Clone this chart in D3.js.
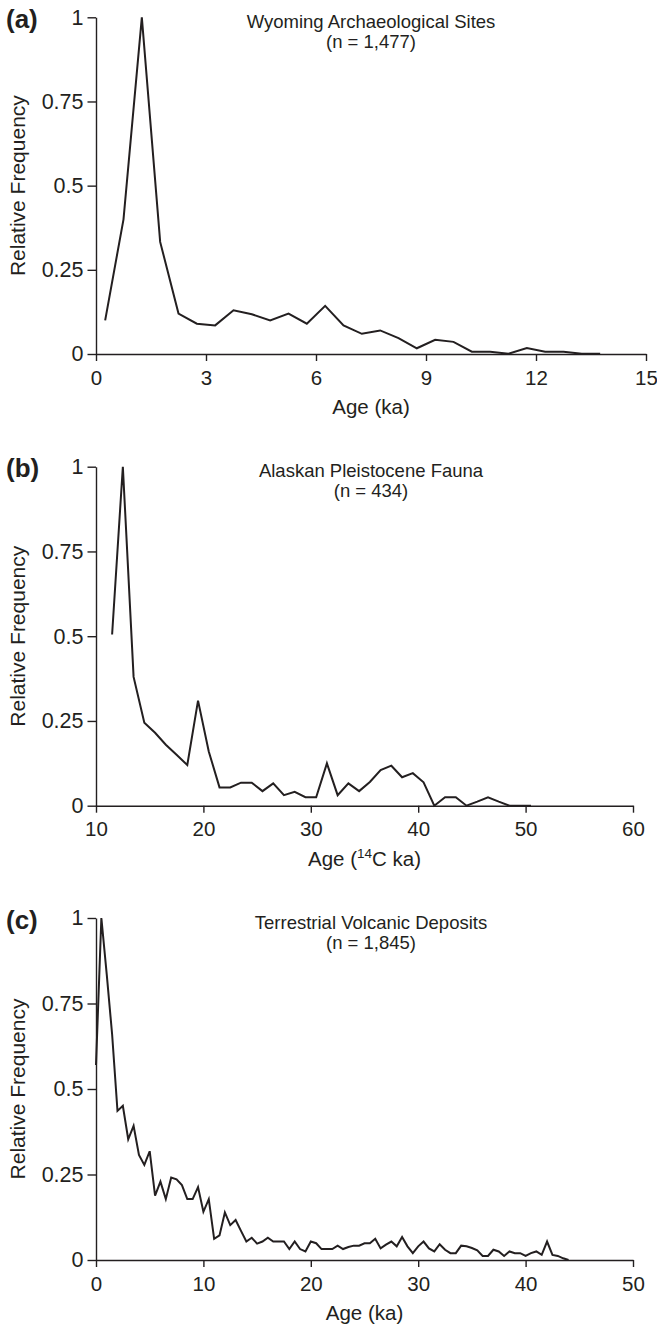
<!DOCTYPE html>
<html>
<head>
<meta charset="utf-8">
<script src="https://cdn.jsdelivr.net/npm/d3@7/dist/d3.min.js"></script>
<style>
  html, body { margin: 0; padding: 0; background: #fff; }
  svg { display: block; }
  text { font-family: "Liberation Sans", Arial, Helvetica, sans-serif; fill: #231f20; }
</style>
</head>
<body>
<svg id="fig" width="657" height="1326"></svg>
<script>
// (a) Wyoming archaeological sites, binned age (ka) vs relative frequency
const ageA = [0.25, 0.75, 1.25, 1.75, 2.25, 2.75, 3.25, 3.75, 4.25, 4.75, 5.25, 5.75, 6.25, 6.75,
              7.25, 7.75, 8.25, 8.75, 9.25, 9.75, 10.25, 10.75, 11.25, 11.75, 12.25, 12.75, 13.25, 13.75];
const freqA = [0.10, 0.40, 1.00, 0.333, 0.12, 0.09, 0.085, 0.13, 0.118, 0.10, 0.12, 0.09, 0.143, 0.085,
               0.06, 0.07, 0.047, 0.017, 0.042, 0.036, 0.007, 0.007, 0.001, 0.018, 0.007, 0.007, 0.001, 0.001];

// (b) Alaskan Pleistocene fauna, 14C ka
const ageB = [11.5, 12.5, 13.5, 14.5, 15.5, 16.5, 17.5, 18.5, 19.5, 20.5, 21.5, 22.5, 23.5, 24.5,
              25.5, 26.5, 27.5, 28.5, 29.5, 30.5, 31.5, 32.5, 33.5, 34.5, 35.5, 36.5, 37.5, 38.5,
              39.5, 40.5, 41.5, 42.5, 43.5, 44.5, 45.5, 46.5, 47.5, 48.5, 49.5, 50.5];
const freqB = [0.505, 1.00, 0.38, 0.245, 0.215, 0.18, 0.15, 0.12, 0.31, 0.16, 0.054, 0.054, 0.068, 0.068,
               0.043, 0.066, 0.031, 0.041, 0.025, 0.025, 0.125, 0.031, 0.066, 0.043, 0.07, 0.105, 0.118, 0.084,
               0.096, 0.069, 0.0, 0.025, 0.025, 0.0, 0.012, 0.025, 0.012, 0.0, 0.0, 0.0];

// (c) Terrestrial volcanic deposits, ka
const ageC = [0, 0.5, 1, 1.5, 2, 2.5, 3, 3.5, 4, 4.5, 5, 5.5, 6, 6.5, 7, 7.5, 8, 8.5, 9, 9.5,
              10, 10.5, 11, 11.5, 12, 12.5, 13, 13.5, 14, 14.5, 15, 15.5, 16, 16.5, 17, 17.5, 18, 18.5, 19, 19.5,
              20, 20.5, 21, 21.5, 22, 22.5, 23, 23.5, 24, 24.5, 25, 25.5, 26, 26.5, 27, 27.5, 28, 28.5, 29, 29.5,
              30, 30.5, 31, 31.5, 32, 32.5, 33, 33.5, 34, 34.5, 35, 35.5, 36, 36.5, 37, 37.5, 38, 38.5, 39, 39.5,
              40, 40.5, 41, 41.5, 42, 42.5, 43, 43.5, 44];
const freqC = [0.57, 1.00, 0.835, 0.66, 0.436, 0.451, 0.353, 0.392, 0.307, 0.278, 0.318, 0.188, 0.229, 0.178, 0.241, 0.236, 0.219, 0.178, 0.178, 0.213,
               0.141, 0.178, 0.062, 0.072, 0.139, 0.102, 0.117, 0.085, 0.054, 0.065, 0.048, 0.054, 0.065, 0.054, 0.054, 0.054, 0.032, 0.054, 0.032, 0.025,
               0.054, 0.049, 0.032, 0.032, 0.032, 0.042, 0.032, 0.038, 0.042, 0.042, 0.049, 0.049, 0.062, 0.034, 0.045, 0.054, 0.040, 0.067, 0.040, 0.020,
               0.040, 0.054, 0.034, 0.025, 0.046, 0.030, 0.020, 0.020, 0.042, 0.040, 0.035, 0.028, 0.012, 0.012, 0.030, 0.025, 0.012, 0.025, 0.020, 0.020,
               0.012, 0.020, 0.025, 0.015, 0.054, 0.015, 0.012, 0.005, 0.0];

// Axis ticks
const yTicks = [0, 0.25, 0.5, 0.75, 1];
const xTicksA = [0, 3, 6, 9, 12, 15];
const xTicksB = [10, 20, 30, 40, 50, 60];
const xTicksC = [0, 10, 20, 30, 40, 50];

// Panel text
const panelTags = ["(a)", "(b)", "(c)"];
const panelTitles = ["Wyoming Archaeological Sites", "Alaskan Pleistocene Fauna", "Terrestrial Volcanic Deposits"];
const panelCounts = ["(n = 1,477)", "(n = 434)", "(n = 1,845)"];

const svg = d3.select("#fig");
const INK = "#231f20";

const panels = [
  { tag: panelTags[0], title: panelTitles[0], count: panelCounts[0], ages: ageA, freqs: freqA,
    xDomain: [0, 15], xTicks: xTicksA, x0: 96, x1: 646, yTop: 17.3, yBot: 354, xLabel: "ka" },
  { tag: panelTags[1], title: panelTitles[1], count: panelCounts[1], ages: ageB, freqs: freqB,
    xDomain: [10, 60], xTicks: xTicksB, x0: 96, x1: 633, yTop: 466.7, yBot: 805.7, xLabel: "14C" },
  { tag: panelTags[2], title: panelTitles[2], count: panelCounts[2], ages: ageC, freqs: freqC,
    xDomain: [0, 50], xTicks: xTicksC, x0: 96, x1: 633, yTop: 918, yBot: 1260, xLabel: "ka" }
];

const fmtY = v => String(v);

panels.forEach(p => {
  const x = d3.scaleLinear().domain(p.xDomain).range([p.x0, p.x1]);
  const y = d3.scaleLinear().domain([0, 1]).range([p.yBot, p.yTop]);
  const g = svg.append("g");

  // y axis
  const yAxis = g.append("g")
    .attr("transform", `translate(${p.x0},0)`)
    .call(d3.axisLeft(y).tickValues(yTicks).tickFormat(fmtY).tickSize(8.5).tickSizeOuter(0).tickPadding(4));
  // x axis
  const xAxis = g.append("g")
    .attr("transform", `translate(0,${p.yBot})`)
    .call(d3.axisBottom(x).tickValues(p.xTicks).tickFormat(d3.format("d")).tickSize(7).tickSizeOuter(0).tickPadding(9));

  [yAxis, xAxis].forEach(a => {
    a.select(".domain").attr("stroke", INK).attr("stroke-width", 1.4);
    a.selectAll(".tick line").attr("stroke", INK).attr("stroke-width", 1.4);
    a.selectAll(".tick text").attr("fill", INK)
      .style("font-family", '"Liberation Sans", Arial, sans-serif');
  });
  yAxis.selectAll(".tick text").attr("font-size", 21.5);
  xAxis.selectAll(".tick text").attr("font-size", 20.5);

  // series line
  const pts = p.ages.map((a, i) => [a, p.freqs[i]]);
  g.append("path")
    .datum(pts)
    .attr("fill", "none")
    .attr("stroke", INK)
    .attr("stroke-width", 2)
    .attr("stroke-linejoin", "miter")
    .attr("d", d3.line().x(d => x(d[0])).y(d => y(d[1])));

  // panel tag
  g.append("text")
    .attr("x", 6).attr("y", p.yTop + 10.5)
    .attr("font-size", 26).attr("font-weight", "bold")
    .text(p.tag);

  // title lines
  const cx = 371;
  g.append("text").attr("x", cx).attr("y", p.yTop + 10.5)
    .attr("text-anchor", "middle").attr("font-size", 18.5).text(p.title);
  g.append("text").attr("x", cx).attr("y", p.yTop + 30.5)
    .attr("text-anchor", "middle").attr("font-size", 18.5).text(p.count);

  // y axis title
  g.append("text")
    .attr("transform", `translate(25,${(p.yTop + p.yBot) / 2}) rotate(-90)`)
    .attr("text-anchor", "middle").attr("font-size", 21)
    .text("Relative Frequency");

  // x axis title
  const xt = g.append("text")
    .attr("x", (p.x0 + p.x1) / 2).attr("y", p.yBot + 60)
    .attr("text-anchor", "middle").attr("font-size", 20.5);
  if (p.xLabel === "14C") {
    xt.append("tspan").text("Age (");
    xt.append("tspan").attr("font-size", 13.5).attr("dy", -8).text("14");
    xt.append("tspan").attr("dy", 8).text("C ka)");
  } else {
    xt.text("Age (ka)");
  }
});
</script>
</body>
</html>
